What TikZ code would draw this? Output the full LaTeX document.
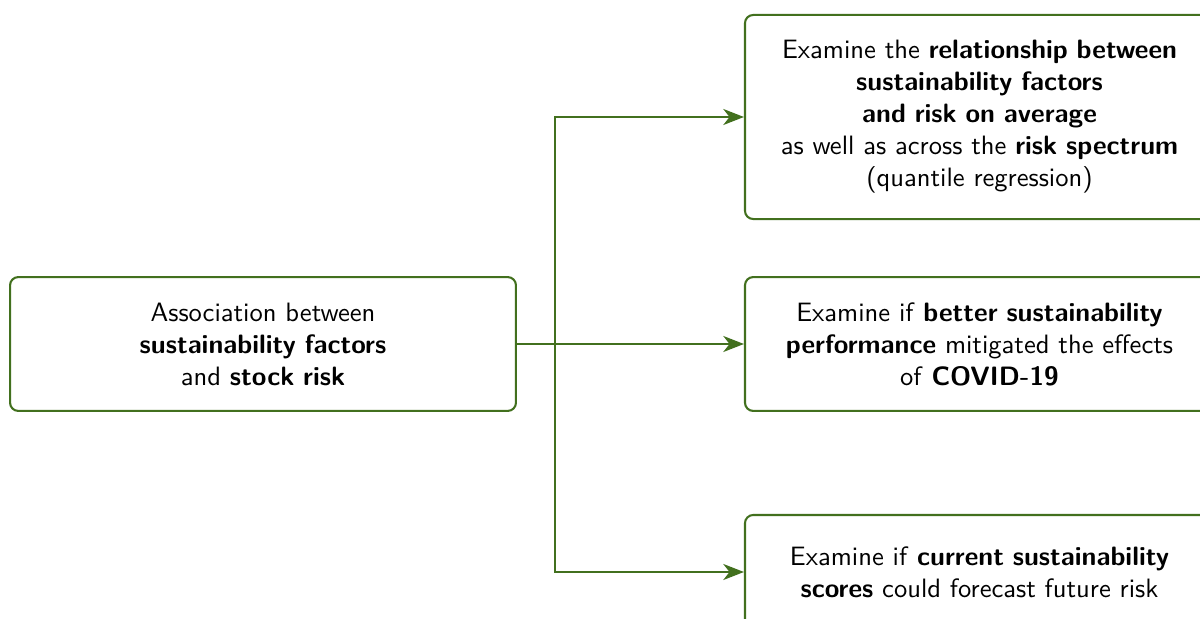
\documentclass[tikz,border=0pt]{standalone}
\usetikzlibrary{arrows.meta}
\definecolor{boxgreen}{RGB}{66,112,30}
\begin{document}
\begin{tikzpicture}[x=0.3876pt,y=-0.3876pt,
  box/.style={draw=boxgreen, line width=0.8pt, rounded corners=3.2pt, fill=white,
    inner sep=0pt, align=center, font=\sffamily\fontsize{10.3}{12.4}\selectfont},
  conn/.style={draw=boxgreen, line width=0.8pt, -{Stealth[length=8pt,width=6.2pt,inset=2.4pt]}}]
\useasboundingbox (0,0) rectangle (1200,619);
\clip (0,0) rectangle (1200,619);
\node[box, minimum width=196.1pt, minimum height=51.9pt, text width=190pt] (src) at (263,344)
  {Association between\\ \textbf{sustainability factors}\\ and \textbf{stock risk}};
\node[box, minimum width=181.8pt, minimum height=79.1pt, text width=178pt] (top) at (979.5,117)
  {Examine the \textbf{relationship between}\\ \textbf{sustainability factors}\\ \textbf{and risk on average}\\ as well as across the \textbf{risk spectrum}\\ (quantile regression)};
\node[box, minimum width=181.8pt, minimum height=51.9pt, text width=178pt] (mid) at (979.5,344)
  {Examine if \textbf{better sustainability}\\ \textbf{performance} mitigated the effects\\ of \textbf{COVID-19}};
\node[box, minimum width=181.8pt, minimum height=44.2pt, text width=178pt] (bot) at (979.5,572)
  {Examine if \textbf{current sustainability}\\ \textbf{scores} could forecast future risk};
\coordinate (branch) at (555,344);
\draw[conn] (src.east) -- (mid.west);
\draw[conn] (branch) |- (top.west);
\draw[conn] (branch) |- (bot.west);
\end{tikzpicture}
\end{document}
